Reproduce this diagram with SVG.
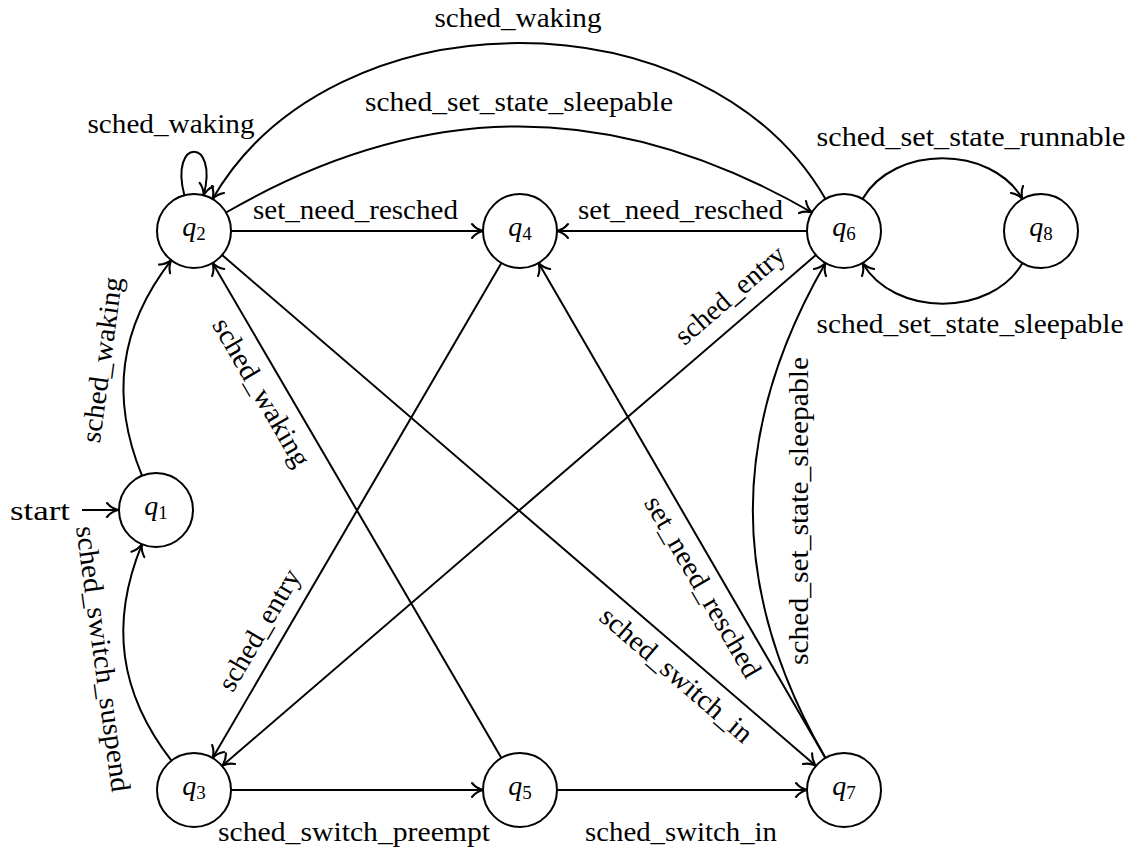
<svg xmlns="http://www.w3.org/2000/svg" width="1140" height="853" viewBox="0 0 1140 853">
<style>
.st{fill:#fff;stroke:#000;stroke-width:2}
.nl{font-family:"Liberation Serif","Times New Roman",serif;font-size:28px;fill:#000}
.e{fill:none;stroke:#000;stroke-width:2;marker-end:url(#arr)}
.lb{font-family:"Liberation Serif","Times New Roman",serif;font-size:28px;fill:#000;text-anchor:middle}
</style>
<defs>
<marker id="arr" viewBox="-14 -10 16 20" refX="0" refY="0" markerWidth="16" markerHeight="20" orient="auto" markerUnits="userSpaceOnUse">
<path d="M-11,-7 C-8,-3.2 -3.5,-0.9 0,0 C-3.5,0.9 -8,3.2 -11,7" fill="none" stroke="#000" stroke-width="2.1" stroke-linecap="round" stroke-linejoin="round"/>
</marker>
</defs>
<rect width="1140" height="853" fill="#fff"/>
<g id="connectors">
<path class="e" d="M82,510 L118,510"/>
<path class="e" d="M142,475.7 C109.9,397.3 119.2,327.4 171.3,260.2"/>
<path class="e" d="M171.4,760.7 C119.1,693 109.6,623.3 142,544.2"/>
<path class="e" d="M184.4,195.3 C168.9,137.3 219.1,137.3 203.6,195.3"/>
<path class="e" d="M825.5,199 C705.5,-8.9 332.5,-8.9 212.5,199"/>
<path class="e" d="M226,212.5 C424.7,97.8 613.3,97.8 812,212.5"/>
<path class="e" d="M862.5,199 C893.8,144.8 991.2,144.8 1022.5,199"/>
<path class="e" d="M1022.5,263 C991.2,317.2 893.8,317.2 862.5,263"/>
<path class="e" d="M825.5,758 C728.6,590.2 728.6,430.8 825.5,263"/>
<path class="e" d="M231,231 L483,231"/>
<path class="e" d="M807,231 L557,231"/>
<path class="e" d="M231,790 L483,790"/>
<path class="e" d="M557,790 L807,790"/>
<path class="e" d="M501.4,263 L212.6,758"/>
<path class="e" d="M815.9,255.1 L222.1,765.9"/>
<path class="e" d="M222.1,255.1 L815.9,765.9"/>
<path class="e" d="M501.4,758 L212.6,263"/>
<path class="e" d="M825.4,758 L538.6,263"/>
<text class="lb" x="70" y="520" style="text-anchor:end" textLength="60" lengthAdjust="spacingAndGlyphs">start</text>
<text class="lb" transform="translate(111,361) rotate(-82.3)" textLength="167" lengthAdjust="spacingAndGlyphs">sched_waking</text>
<text class="lb" transform="translate(94,660) rotate(82.3)" textLength="268" lengthAdjust="spacingAndGlyphs">sched_switch_suspend</text>
<text class="lb" x="171" y="133" textLength="167" lengthAdjust="spacingAndGlyphs">sched_waking</text>
<text class="lb" x="518" y="27" textLength="167" lengthAdjust="spacingAndGlyphs">sched_waking</text>
<text class="lb" x="519" y="111" textLength="308" lengthAdjust="spacingAndGlyphs">sched_set_state_sleepable</text>
<text class="lb" x="355.5" y="219" textLength="205" lengthAdjust="spacingAndGlyphs">set_need_resched</text>
<text class="lb" x="680.5" y="219" textLength="205" lengthAdjust="spacingAndGlyphs">set_need_resched</text>
<text class="lb" x="971" y="146" textLength="309" lengthAdjust="spacingAndGlyphs">sched_set_state_runnable</text>
<text class="lb" x="970" y="333" textLength="307" lengthAdjust="spacingAndGlyphs">sched_set_state_sleepable</text>
<text class="lb" x="354" y="841" textLength="272" lengthAdjust="spacingAndGlyphs">sched_switch_preempt</text>
<text class="lb" x="681" y="841" textLength="192" lengthAdjust="spacingAndGlyphs">sched_switch_in</text>
<text class="lb" transform="translate(267,634.5) rotate(-59.75)" textLength="136" lengthAdjust="spacingAndGlyphs">sched_entry</text>
<text class="lb" transform="translate(736,302) rotate(-40.7)" textLength="136" lengthAdjust="spacingAndGlyphs">sched_entry</text>
<text class="lb" transform="translate(253.5,397) rotate(59.75)" textLength="167" lengthAdjust="spacingAndGlyphs">sched_waking</text>
<text class="lb" transform="translate(695,591.5) rotate(59.9)" textLength="205" lengthAdjust="spacingAndGlyphs">set_need_resched</text>
<text class="lb" transform="translate(670.4,681.8) rotate(40.7)" textLength="192" lengthAdjust="spacingAndGlyphs">sched_switch_in</text>
<text class="lb" transform="translate(808,511) rotate(-90)" textLength="308" lengthAdjust="spacingAndGlyphs">sched_set_state_sleepable</text>
</g>
<g id="q1"><circle class="st" cx="156" cy="510" r="37"/><text class="nl" x="156" y="515" text-anchor="middle"><tspan font-style="italic">q</tspan><tspan font-size="19" dy="4">1</tspan></text></g>
<g id="q2"><circle class="st" cx="194" cy="231" r="37"/><text class="nl" x="194" y="236" text-anchor="middle"><tspan font-style="italic">q</tspan><tspan font-size="19" dy="4">2</tspan></text></g>
<g id="q3"><circle class="st" cx="194" cy="790" r="37"/><text class="nl" x="194" y="795" text-anchor="middle"><tspan font-style="italic">q</tspan><tspan font-size="19" dy="4">3</tspan></text></g>
<g id="q4"><circle class="st" cx="520" cy="231" r="37"/><text class="nl" x="520" y="236" text-anchor="middle"><tspan font-style="italic">q</tspan><tspan font-size="19" dy="4">4</tspan></text></g>
<g id="q5"><circle class="st" cx="520" cy="790" r="37"/><text class="nl" x="520" y="795" text-anchor="middle"><tspan font-style="italic">q</tspan><tspan font-size="19" dy="4">5</tspan></text></g>
<g id="q6"><circle class="st" cx="844" cy="231" r="37"/><text class="nl" x="844" y="236" text-anchor="middle"><tspan font-style="italic">q</tspan><tspan font-size="19" dy="4">6</tspan></text></g>
<g id="q7"><circle class="st" cx="844" cy="790" r="37"/><text class="nl" x="844" y="795" text-anchor="middle"><tspan font-style="italic">q</tspan><tspan font-size="19" dy="4">7</tspan></text></g>
<g id="q8"><circle class="st" cx="1041" cy="231" r="37"/><text class="nl" x="1041" y="236" text-anchor="middle"><tspan font-style="italic">q</tspan><tspan font-size="19" dy="4">8</tspan></text></g>
</svg>
